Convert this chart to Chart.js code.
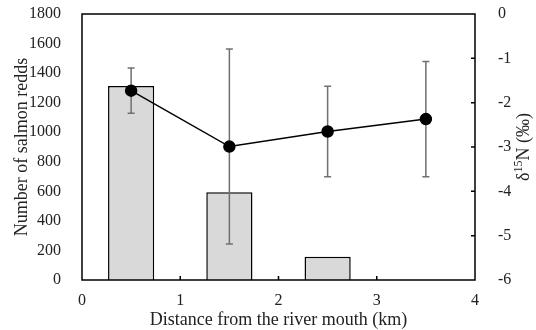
<!DOCTYPE html>
<html>
<head>
<meta charset="utf-8">
<script src="https://cdn.jsdelivr.net/npm/chart.js@4"></script>
<style>
  body { margin: 0; background: #fff; }
  #wrap { width: 536px; height: 330px; }
</style>
</head>
<body>
<div id="wrap"><canvas id="chart" width="536" height="330"></canvas></div>
<script>
// distance from the river mouth (km)
const distances = [0.5, 1.5, 2.5, 3.5];
// number of salmon redds per section
const redds = [1312, 593, 158, 0];
// delta 15N mean and error (permil)
const d15N = [-1.73, -2.99, -2.65, -2.37];
const d15NErr = [0.51, 2.2, 1.02, 1.3];

const serif = "'Liberation Serif', 'Times New Roman', serif";

const framePlugin = {
    id: "frame",
    afterDatasetDraw(chart, args) {
        if (args.index !== 0) return;
        // error bars for the d15N series, between bars and line
        const ctx = chart.ctx;
        const x = chart.scales.x, y2 = chart.scales.y2;
        ctx.save();
        ctx.strokeStyle = "#707070";
        ctx.lineWidth = 1.5;
        distances.forEach((d, i) => {
            const px = x.getPixelForValue(d);
            const top = y2.getPixelForValue(d15N[i] + d15NErr[i]);
            const bot = y2.getPixelForValue(d15N[i] - d15NErr[i]);
            ctx.beginPath();
            ctx.moveTo(px, top); ctx.lineTo(px, bot);
            ctx.moveTo(px - 3.5, top); ctx.lineTo(px + 3.5, top);
            ctx.moveTo(px - 3.5, bot); ctx.lineTo(px + 3.5, bot);
            ctx.stroke();
        });
        ctx.restore();
    },
    afterDraw(chart) {
        const ctx = chart.ctx;
        const a = chart.chartArea;
        const x = chart.scales.x, y2 = chart.scales.y2;
        ctx.save();
        ctx.strokeStyle = "#000";
        ctx.lineWidth = 1.5;
        ctx.strokeRect(a.left, a.top, a.right - a.left, a.bottom - a.top);
        // inward ticks
        ctx.beginPath();
        [1, 2, 3].forEach(v => {
            const px = x.getPixelForValue(v);
            ctx.moveTo(px, a.bottom); ctx.lineTo(px, a.bottom - 4);
        });
        [-1, -2, -3, -4, -5].forEach(v => {
            const py = y2.getPixelForValue(v);
            ctx.moveTo(a.right, py); ctx.lineTo(a.right - 4, py);
        });
        ctx.stroke();

        // right axis title with superscript
        ctx.fillStyle = "#222";
        ctx.translate(524, (a.top + a.bottom) / 2);
        ctx.rotate(-Math.PI / 2);
        ctx.textBaseline = "middle";
        const big = "18px " + serif, small = "12px " + serif;
        ctx.font = big;
        const w1 = ctx.measureText("δ").width;
        const w3 = ctx.measureText("N (‰)").width;
        ctx.font = small;
        const w2 = ctx.measureText("15").width;
        let sx = -(w1 + w2 + w3) / 2;
        ctx.font = big;
        ctx.fillText("δ", sx, 0);
        sx += w1;
        ctx.font = small;
        ctx.fillText("15", sx, -5);
        sx += w2;
        ctx.font = big;
        ctx.fillText("N (‰)", sx, 0);
        ctx.restore();
    }
};

new Chart(document.getElementById("chart").getContext("2d"), {
    type: "bar",
    data: {
        datasets: [{
            type: "bar",
            data: distances.map((d, i) => ({ x: d, y: redds[i] })),
            backgroundColor: "#d9d9d9",
            borderColor: "#000",
            borderWidth: 1.5,
            borderSkipped: "bottom",
            barPercentage: 0.47,
            categoryPercentage: 1,
            yAxisID: "y",
            order: 1
        }, {
            type: "line",
            data: distances.map((d, i) => ({ x: d, y: d15N[i] })),
            borderColor: "#000",
            borderWidth: 1.5,
            pointBackgroundColor: "#000",
            pointBorderColor: "#000",
            pointRadius: 5.5,
            yAxisID: "y2",
            order: 0
        }]
    },
    options: {
        responsive: false,
        animation: false,
        layout: { padding: { top: 14, left: 0, right: 0, bottom: 0 } },
        plugins: { legend: { display: false }, tooltip: { enabled: false } },
        scales: {
            x: {
                type: "linear",
                offset: false,
                min: 0, max: 4,
                afterFit: s => { s.height = 50; s.paddingLeft = 0; s.paddingRight = 0; },
                grid: { display: false, offset: false },
                border: { display: false },
                ticks: { stepSize: 1, padding: 3, color: "#222", font: { family: serif, size: 16 } },
                title: {
                    display: true,
                    text: "Distance from the river mouth (km)",
                    color: "#222",
                    font: { family: serif, size: 18, lineHeight: 1 },
                    padding: { top: 0, bottom: 1 }
                }
            },
            y: {
                position: "left",
                min: 0, max: 1800,
                afterFit: s => { s.width = 82; s.paddingTop = 0; s.paddingBottom = 0; },
                grid: { display: false },
                border: { display: false },
                ticks: { stepSize: 200, padding: 13, color: "#222", font: { family: serif, size: 16 }, callback: v => String(v) },
                title: {
                    display: true,
                    text: "Number of salmon redds",
                    color: "#222",
                    font: { family: serif, size: 18, lineHeight: 1 },
                    padding: { top: 13, bottom: 0 }
                }
            },
            y2: {
                position: "right",
                min: -6, max: 0,
                afterFit: s => { s.width = 61; s.paddingTop = 0; s.paddingBottom = 0; },
                grid: { display: false },
                border: { display: false },
                ticks: { stepSize: 1, padding: 15, color: "#222", font: { family: serif, size: 16 }, callback: v => String(v) }
            }
        }
    },
    plugins: [framePlugin]
});
</script>
</body>
</html>
